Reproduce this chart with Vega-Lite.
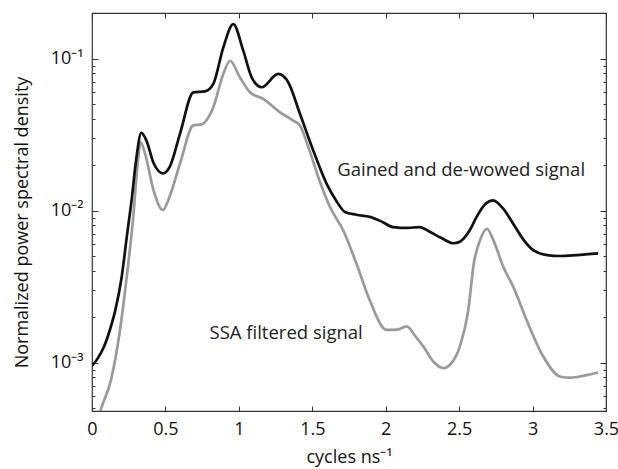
{
  "$schema": "https://vega.github.io/schema/vega-lite/v6.json",
  "width": 514,
  "height": 398,
  "autosize": "none",
  "padding": {"left": 92, "top": 13, "right": 12, "bottom": 58},
  "background": "white",
  "config": {
    "font": "Open Sans",
    "view": {"stroke": "#333", "strokeWidth": 1.2},
    "axis": {
      "domain": false,
      "grid": false,
      "labelFont": "Open Sans",
      "labelFontSize": 18,
      "labelColor": "#111",
      "labelFlush": false,
      "titleFont": "Open Sans",
      "titleFontSize": 18,
      "titleFontWeight": "normal",
      "titleColor": "#111",
      "tickColor": "#333",
      "tickWidth": 1
    }
  },
  "datasets": {
    "psd": [
      {"f": 0, "psd": 0.00095, "series": "gained"},
      {"f": 0.04, "psd": 0.00107, "series": "gained"},
      {"f": 0.08, "psd": 0.00126, "series": "gained"},
      {"f": 0.12, "psd": 0.00162, "series": "gained"},
      {"f": 0.16, "psd": 0.00224, "series": "gained"},
      {"f": 0.2, "psd": 0.00355, "series": "gained"},
      {"f": 0.24, "psd": 0.0071, "series": "gained"},
      {"f": 0.27, "psd": 0.0118, "series": "gained"},
      {"f": 0.3, "psd": 0.0214, "series": "gained"},
      {"f": 0.336, "psd": 0.0325, "series": "gained"},
      {"f": 0.37, "psd": 0.029, "series": "gained"},
      {"f": 0.42, "psd": 0.0205, "series": "gained"},
      {"f": 0.483, "psd": 0.0176, "series": "gained"},
      {"f": 0.53, "psd": 0.0195, "series": "gained"},
      {"f": 0.6, "psd": 0.0323, "series": "gained"},
      {"f": 0.69, "psd": 0.06, "series": "gained"},
      {"f": 0.77, "psd": 0.061, "series": "gained"},
      {"f": 0.826, "psd": 0.0683, "series": "gained"},
      {"f": 0.894, "psd": 0.1186, "series": "gained"},
      {"f": 0.962, "psd": 0.169, "series": "gained"},
      {"f": 1.03, "psd": 0.113, "series": "gained"},
      {"f": 1.087, "psd": 0.0755, "series": "gained"},
      {"f": 1.155, "psd": 0.0649, "series": "gained"},
      {"f": 1.268, "psd": 0.0794, "series": "gained"},
      {"f": 1.336, "psd": 0.07, "series": "gained"},
      {"f": 1.416, "psd": 0.0434, "series": "gained"},
      {"f": 1.506, "psd": 0.025, "series": "gained"},
      {"f": 1.598, "psd": 0.015, "series": "gained"},
      {"f": 1.666, "psd": 0.0115, "series": "gained"},
      {"f": 1.722, "psd": 0.0098, "series": "gained"},
      {"f": 1.8, "psd": 0.0094, "series": "gained"},
      {"f": 1.892, "psd": 0.0091, "series": "gained"},
      {"f": 1.97, "psd": 0.0085, "series": "gained"},
      {"f": 2.05, "psd": 0.0078, "series": "gained"},
      {"f": 2.15, "psd": 0.0077, "series": "gained"},
      {"f": 2.23, "psd": 0.0078, "series": "gained"},
      {"f": 2.3, "psd": 0.00726, "series": "gained"},
      {"f": 2.38, "psd": 0.0066, "series": "gained"},
      {"f": 2.46, "psd": 0.0061, "series": "gained"},
      {"f": 2.505, "psd": 0.00625, "series": "gained"},
      {"f": 2.573, "psd": 0.00745, "series": "gained"},
      {"f": 2.619, "psd": 0.0091, "series": "gained"},
      {"f": 2.68, "psd": 0.0111, "series": "gained"},
      {"f": 2.732, "psd": 0.0117, "series": "gained"},
      {"f": 2.8, "psd": 0.0103, "series": "gained"},
      {"f": 2.868, "psd": 0.0082, "series": "gained"},
      {"f": 2.94, "psd": 0.0064, "series": "gained"},
      {"f": 3.004, "psd": 0.0055, "series": "gained"},
      {"f": 3.1, "psd": 0.0051, "series": "gained"},
      {"f": 3.186, "psd": 0.00503, "series": "gained"},
      {"f": 3.3, "psd": 0.0051, "series": "gained"},
      {"f": 3.447, "psd": 0.00524, "series": "gained"},
      {"f": 0, "psd": 0.0003, "series": "ssa"},
      {"f": 0.06, "psd": 0.00049, "series": "ssa"},
      {"f": 0.131, "psd": 0.00078, "series": "ssa"},
      {"f": 0.188, "psd": 0.00157, "series": "ssa"},
      {"f": 0.234, "psd": 0.0035, "series": "ssa"},
      {"f": 0.279, "psd": 0.0087, "series": "ssa"},
      {"f": 0.313, "psd": 0.0214, "series": "ssa"},
      {"f": 0.331, "psd": 0.0282, "series": "ssa"},
      {"f": 0.36, "psd": 0.024, "series": "ssa"},
      {"f": 0.42, "psd": 0.0135, "series": "ssa"},
      {"f": 0.483, "psd": 0.0101, "series": "ssa"},
      {"f": 0.53, "psd": 0.0125, "series": "ssa"},
      {"f": 0.6, "psd": 0.0205, "series": "ssa"},
      {"f": 0.69, "psd": 0.0364, "series": "ssa"},
      {"f": 0.747, "psd": 0.037, "series": "ssa"},
      {"f": 0.826, "psd": 0.048, "series": "ssa"},
      {"f": 0.894, "psd": 0.0794, "series": "ssa"},
      {"f": 0.94, "psd": 0.097, "series": "ssa"},
      {"f": 1.007, "psd": 0.0755, "series": "ssa"},
      {"f": 1.076, "psd": 0.0601, "series": "ssa"},
      {"f": 1.166, "psd": 0.0544, "series": "ssa"},
      {"f": 1.28, "psd": 0.0444, "series": "ssa"},
      {"f": 1.37, "psd": 0.0392, "series": "ssa"},
      {"f": 1.416, "psd": 0.0364, "series": "ssa"},
      {"f": 1.473, "psd": 0.0262, "series": "ssa"},
      {"f": 1.552, "psd": 0.0155, "series": "ssa"},
      {"f": 1.62, "psd": 0.0106, "series": "ssa"},
      {"f": 1.711, "psd": 0.0074, "series": "ssa"},
      {"f": 1.8, "psd": 0.0045, "series": "ssa"},
      {"f": 1.89, "psd": 0.00259, "series": "ssa"},
      {"f": 2.006, "psd": 0.00164, "series": "ssa"},
      {"f": 2.08, "psd": 0.00165, "series": "ssa"},
      {"f": 2.142, "psd": 0.00173, "series": "ssa"},
      {"f": 2.2, "psd": 0.0015, "series": "ssa"},
      {"f": 2.255, "psd": 0.00128, "series": "ssa"},
      {"f": 2.33, "psd": 0.001, "series": "ssa"},
      {"f": 2.392, "psd": 0.00092, "series": "ssa"},
      {"f": 2.45, "psd": 0.001, "series": "ssa"},
      {"f": 2.505, "psd": 0.00128, "series": "ssa"},
      {"f": 2.562, "psd": 0.0022, "series": "ssa"},
      {"f": 2.6, "psd": 0.0045, "series": "ssa"},
      {"f": 2.64, "psd": 0.0063, "series": "ssa"},
      {"f": 2.69, "psd": 0.0076, "series": "ssa"},
      {"f": 2.73, "psd": 0.0065, "series": "ssa"},
      {"f": 2.8, "psd": 0.00428, "series": "ssa"},
      {"f": 2.868, "psd": 0.00316, "series": "ssa"},
      {"f": 2.96, "psd": 0.0019, "series": "ssa"},
      {"f": 3.072, "psd": 0.0011, "series": "ssa"},
      {"f": 3.186, "psd": 0.00081, "series": "ssa"},
      {"f": 3.254, "psd": 0.000795, "series": "ssa"},
      {"f": 3.35, "psd": 0.00082, "series": "ssa"},
      {"f": 3.447, "psd": 0.00086, "series": "ssa"}
    ],
    "notes": [
      {"f": 1.67, "psd": 0.0185, "label": "Gained and de-wowed signal"},
      {"f": 0.8, "psd": 0.00157, "label": "SSA filtered signal"}
    ]
  },
  "layer": [
    {
      "data": {"name": "psd"},
      "transform": [{"filter": "datum.series == 'ssa'"}],
      "mark": {"type": "line", "color": "#9a9a9a", "strokeWidth": 2.7, "interpolate": "monotone", "clip": true},
      "encoding": {
        "x": {
          "field": "f", "type": "quantitative",
          "scale": {"domain": [0, 3.5], "nice": false, "zero": false},
          "axis": {
            "orient": "bottom",
            "values": [0, 0.5, 1, 1.5, 2, 2.5, 3, 3.5],
            "format": "~g",
            "tickSize": -5,
            "labelPadding": 14,
            "title": "cycles ns⁻¹",
            "titleBaseline": "middle",
            "titleY": 46
          }
        },
        "y": {
          "field": "psd", "type": "quantitative",
          "scale": {"type": "log", "domain": [0.00048, 0.2], "nice": false},
          "axis": {
            "orient": "left",
            "values": [0.0005, 0.0006, 0.0007, 0.0008, 0.0009, 0.001, 0.002, 0.003, 0.004, 0.005, 0.006, 0.007, 0.008, 0.009, 0.01, 0.02, 0.03, 0.04, 0.05, 0.06, 0.07, 0.08, 0.09, 0.1],
            "labelExpr": "datum.value == 0.1 ? '10⁻¹' : datum.value == 0.01 ? '10⁻²' : datum.value == 0.001 ? '10⁻³' : ''",
            "tickSize": {"condition": {"test": "datum.value == 0.1 || datum.value == 0.01 || datum.value == 0.001", "value": -6}, "value": -3},
            "labelPadding": 15,
            "title": "Normalized power spectral density",
            "titleBaseline": "middle",
            "titleX": -70,
            "titleY": 209
          }
        }
      }
    },
    {
      "data": {"name": "psd"},
      "transform": [{"filter": "datum.series == 'gained'"}],
      "mark": {"type": "line", "color": "#111", "strokeWidth": 2.7, "interpolate": "monotone", "clip": true},
      "encoding": {
        "x": {"field": "f", "type": "quantitative", "axis": null},
        "y": {"field": "psd", "type": "quantitative", "axis": null}
      }
    },
    {
      "data": {"name": "notes"},
      "mark": {"type": "text", "align": "left", "baseline": "middle", "font": "Open Sans", "fontSize": 18.5, "color": "#222"},
      "encoding": {
        "x": {"field": "f", "type": "quantitative", "axis": null},
        "y": {"field": "psd", "type": "quantitative", "axis": null},
        "text": {"field": "label"}
      }
    },
    {
      "data": {"name": "notes"},
      "mark": {"type": "point", "opacity": 0},
      "encoding": {
        "x": {
          "field": "f", "type": "quantitative",
          "axis": {"orient": "top", "values": [0, 0.5, 1, 1.5, 2, 2.5, 3, 3.5], "labels": false, "tickSize": -5, "title": null}
        },
        "y": {
          "field": "psd", "type": "quantitative",
          "axis": {
            "orient": "right",
            "values": [0.0005, 0.0006, 0.0007, 0.0008, 0.0009, 0.001, 0.002, 0.003, 0.004, 0.005, 0.006, 0.007, 0.008, 0.009, 0.01, 0.02, 0.03, 0.04, 0.05, 0.06, 0.07, 0.08, 0.09, 0.1],
            "labels": false,
            "tickSize": {"condition": {"test": "datum.value == 0.1 || datum.value == 0.01 || datum.value == 0.001", "value": -6}, "value": -3},
            "title": null
          }
        }
      }
    }
  ],
  "resolve": {"axis": {"x": "independent", "y": "independent"}}
}
